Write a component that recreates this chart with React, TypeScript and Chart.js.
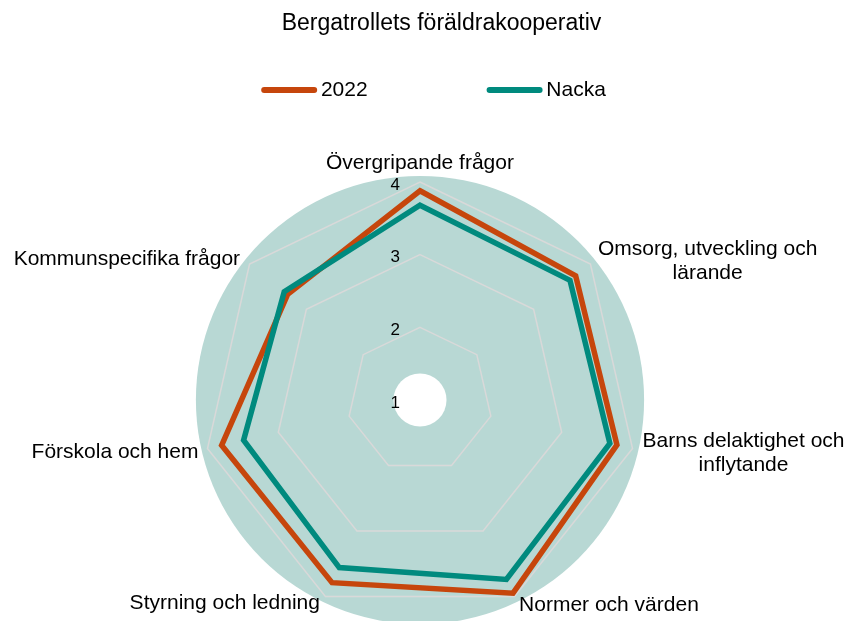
import React, { useEffect, useRef } from 'react';
import { Chart, registerables } from 'chart.js';

Chart.register(...registerables);

const TITLE = 'Bergatrollets föräldrakooperativ';
const CATEGORIES: string[][] = [
  ['Övergripande frågor'],
  ['Omsorg, utveckling och', 'lärande'],
  ['Barns delaktighet och', 'inflytande'],
  ['Normer och värden'],
  ['Styrning och ledning'],
  ['Förskola och hem'],
  ['Kommunspecifika frågor'],
];
const SERIES_NAMES = ['2022', 'Nacka'];
const VALUES_2022 = [3.88, 3.74, 3.78, 3.95, 3.79, 3.8, 3.33];
const VALUES_NACKA = [3.68, 3.64, 3.68, 3.74, 3.56, 3.49, 3.39];
const TICK_VALUES = [1, 2, 3, 4];

const FONT = '"Liberation Sans", Arial, Helvetica, sans-serif';
const COLOR_2022 = '#C6460C';
const COLOR_NACKA = '#008A7E';
const PLOT_BG = '#B8D8D4';
const GRID = '#D9D9D9';

// label placement relative to the axis end point
const LABEL_LAYOUT = [
  { align: 'center', dx: 0, dy: -19 },
  { align: 'left', dx: 7.5, dy: -3 },
  { align: 'left', dx: 10, dy: 4.5 },
  { align: 'left', dx: 4.5, dy: 9 },
  { align: 'right', dx: -5.5, dy: 7 },
  { align: 'right', dx: -9, dy: 3.5 },
  { align: 'right', dx: -9.5, dy: -4.7 },
];

const decorPlugin = {
  id: 'decor',
  beforeDraw(chart: any) {
    const s = chart.scales.r;
    if (!s) return;
    const ctx = chart.ctx;
    ctx.save();
    ctx.fillStyle = PLOT_BG;
    ctx.beginPath();
    ctx.arc(s.xCenter, s.yCenter, s.drawingArea * 1.028, 0, Math.PI * 2);
    ctx.fill();
    ctx.fillStyle = '#ffffff';
    ctx.beginPath();
    ctx.arc(s.xCenter, s.yCenter, s.drawingArea * 0.1216, 0, Math.PI * 2);
    ctx.fill();
    ctx.restore();
  },
  afterDraw(chart: any) {
    const s = chart.scales.r;
    if (!s) return;
    const ctx = chart.ctx;
    ctx.save();
    // tick labels
    ctx.fillStyle = '#000';
    ctx.font = `17px ${FONT}`;
    ctx.textAlign = 'right';
    ctx.textBaseline = 'middle';
    s.ticks.forEach((t: any) => {
      const d = s.getDistanceFromCenterForValue(t.value);
      ctx.fillText(String(t.value), s.xCenter - 20, s.yCenter - d + 3);
    });
    // point labels
    ctx.font = `21px ${FONT}`;
    ctx.textAlign = 'center';
    const lh = 24.5;
    CATEGORIES.forEach((lines, i) => {
      const p = s.getPointPosition(i, s.drawingArea);
      const lay = LABEL_LAYOUT[i];
      const w = Math.max(...lines.map((l) => ctx.measureText(l).width));
      const ax = p.x + lay.dx;
      const ay = p.y + lay.dy;
      let left = ax - w / 2;
      if (lay.align === 'left') left = ax;
      if (lay.align === 'right') left = ax - w;
      lines.forEach((l, j) => {
        ctx.fillText(l, left + w / 2, ay + (j - (lines.length - 1) / 2) * lh);
      });
    });
    // legend
    const ds = chart.data.datasets;
    ctx.font = `21px ${FONT}`;
    ctx.textAlign = 'left';
    const lineLen = 50;
    const textOff = 56.7;
    const gap = 122;
    const widths = ds.map((d: any) => textOff + ctx.measureText(d.label).width);
    const total = widths.reduce((a: number, b: number) => a + b, 0) + gap * (ds.length - 1);
    let x = 435 - total / 2;
    const y = 90;
    ds.forEach((d: any, i: number) => {
      ctx.strokeStyle = d.borderColor;
      ctx.lineWidth = 6;
      ctx.lineCap = 'round';
      ctx.beginPath();
      ctx.moveTo(x, y);
      ctx.lineTo(x + lineLen, y);
      ctx.stroke();
      ctx.fillStyle = '#000';
      ctx.fillText(d.label, x + textOff, y);
      x += widths[i] + gap;
    });
    ctx.restore();
  },
};

export default function App() {
  const ref = useRef<HTMLCanvasElement>(null);
  useEffect(() => {
    if (!ref.current) return;
    const chart = new Chart(ref.current, {
      type: 'radar',
      data: {
        labels: CATEGORIES.map((c) => c.join(' ')),
        datasets: [
          {
            label: SERIES_NAMES[0],
            data: VALUES_2022,
            borderColor: COLOR_2022,
            backgroundColor: COLOR_2022,
            borderWidth: 5.5,
            borderJoinStyle: 'miter',
            fill: false,
            pointRadius: 0,
            pointHoverRadius: 0,
            order: 2,
            clip: false,
          } as any,
          {
            label: SERIES_NAMES[1],
            data: VALUES_NACKA,
            borderColor: COLOR_NACKA,
            backgroundColor: COLOR_NACKA,
            borderWidth: 5.5,
            borderJoinStyle: 'miter',
            fill: false,
            pointRadius: 0,
            pointHoverRadius: 0,
            order: 1,
            clip: false,
          } as any,
        ],
      },
      options: {
        responsive: false,
        animation: false,
        layout: { padding: { left: 33, top: 0, right: 0, bottom: 0 } },
        plugins: {
          legend: { display: false },
          tooltip: { enabled: false },
          title: {
            display: true,
            text: TITLE,
            color: '#000',
            font: { family: FONT, size: 23, weight: 'normal' },
            padding: { top: 10, bottom: 10 },
          },
        },
        scales: {
          r: {
            min: TICK_VALUES[0],
            max: TICK_VALUES[TICK_VALUES.length - 1],
            ticks: { stepSize: 1, display: false },
            grid: { color: GRID, lineWidth: 1.5 },
            angleLines: { display: false },
            pointLabels: { display: false },
            afterFit: (scale: any) => {
              scale.xCenter = 420;
              scale.yCenter = 400;
              scale.drawingArea = 218;
            },
          } as any,
        },
      },
      plugins: [decorPlugin],
    });
    return () => chart.destroy();
  }, []);
  return (
    <canvas
      ref={ref}
      width={850}
      height={621}
      style={{ position: 'absolute', left: 0, top: 0, display: 'block' }}
    />
  );
}
